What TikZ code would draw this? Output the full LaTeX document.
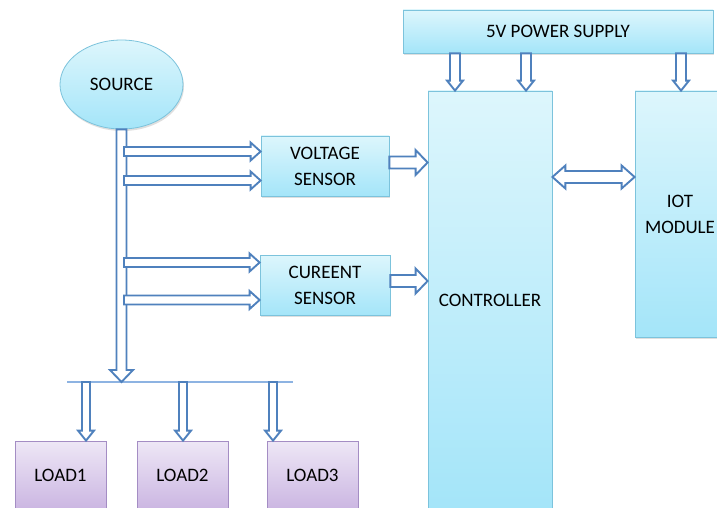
\documentclass[tikz,border=0pt]{standalone}
\usepackage{fontspec}
\setmainfont{Carlito}
\usetikzlibrary{calc,shapes.geometric,shadows}

\definecolor{arrowblue}{HTML}{4F81BD}
\definecolor{boxtop}{HTML}{DDF6FC}
\definecolor{boxbot}{HTML}{A4E5F9}
\definecolor{boxedge}{HTML}{7CC3DC}
\definecolor{loadtop}{HTML}{EEE7F6}
\definecolor{loadbot}{HTML}{CBB6E2}
\definecolor{loadedge}{HTML}{A48DC4}
\definecolor{busline}{HTML}{8DB3E2}

\tikzset{
  boxbase/.style={line width=0.8pt, align=center, inner sep=0pt,
    font=\fontsize{19}{26}\selectfont,
    drop shadow={shadow xshift=1pt, shadow yshift=-2pt, opacity=0.25}},
  bluebox/.style={boxbase, draw=boxedge, top color=boxtop, bottom color=boxbot},
  loadbox/.style={boxbase, draw=loadedge, top color=loadtop, bottom color=loadbot,
    minimum width=91pt, minimum height=68pt},
  % hollow block arrow: {shaft half width}{head half width}{head length}
  hollow/.style n args={3}{draw=arrowblue, fill=white, line width=1.9pt, line join=miter,
    to path={
      ($(\tikztostart)!#1!90:(\tikztotarget)$)
      -- ($($(\tikztotarget)!#3!(\tikztostart)$)!#1!90:(\tikztotarget)$)
      -- ($($(\tikztotarget)!#3!(\tikztostart)$)!#2!90:(\tikztotarget)$)
      -- (\tikztotarget)
      -- ($($(\tikztotarget)!#3!(\tikztostart)$)!#2!-90:(\tikztotarget)$)
      -- ($($(\tikztotarget)!#3!(\tikztostart)$)!#1!-90:(\tikztotarget)$)
      -- ($(\tikztostart)!#1!-90:(\tikztotarget)$)
      -- cycle}},
  % hollow block arrow with a head at both ends
  hollowboth/.style n args={3}{draw=arrowblue, fill=white, line width=1.9pt, line join=miter,
    to path={
      (\tikztostart)
      -- ($($(\tikztostart)!#3!(\tikztotarget)$)!#2!90:(\tikztotarget)$)
      -- ($($(\tikztostart)!#3!(\tikztotarget)$)!#1!90:(\tikztotarget)$)
      -- ($($(\tikztotarget)!#3!(\tikztostart)$)!#1!90:(\tikztotarget)$)
      -- ($($(\tikztotarget)!#3!(\tikztostart)$)!#2!90:(\tikztotarget)$)
      -- (\tikztotarget)
      -- ($($(\tikztotarget)!#3!(\tikztostart)$)!#2!-90:(\tikztotarget)$)
      -- ($($(\tikztotarget)!#3!(\tikztostart)$)!#1!-90:(\tikztotarget)$)
      -- ($($(\tikztostart)!#3!(\tikztotarget)$)!#1!-90:(\tikztotarget)$)
      -- ($($(\tikztostart)!#3!(\tikztotarget)$)!#2!-90:(\tikztotarget)$)
      -- cycle}}
}

\begin{document}
\begin{tikzpicture}[x=1pt,y=-1pt]
\clip (0,0) rectangle (717,508);
\fill[white] (0,0) rectangle (717,508);

% blocks
\node[bluebox, ellipse, minimum width=123pt, minimum height=89pt] (src) at (121.5,84.5) {SOURCE};
\node[bluebox, minimum width=128pt, minimum height=60pt] (vs) at (325,166) {VOLTAGE\\SENSOR};
\node[bluebox, minimum width=130pt, minimum height=60pt] (cs) at (325,285) {CUREENT\\SENSOR};
\node[bluebox, minimum width=310pt, minimum height=43pt] (ps) at (558,31.5) {5V POWER SUPPLY};
\node[bluebox, minimum width=124pt, minimum height=418pt] (ctrl) at (490,300) {CONTROLLER};
\node[bluebox, minimum width=90pt, minimum height=246pt] (iot) at (680,214) {IOT\\MODULE};
\node[loadbox] (l1) at (60.5,475) {LOAD1};
\node[loadbox] (l2) at (182.5,475) {LOAD2};
\node[loadbox] (l3) at (312.5,475) {LOAD3};

% distribution line below the source bus
\coordinate (lineL) at (67,382);
\coordinate (lineR) at (293,382);
\draw[busline, line width=1.2pt] (lineL) -- (lineR);

% source bus
\coordinate (busend) at (src.south |- lineL);
\draw[hollow={5pt}{11.5pt}{12pt}] (src.south) to (busend);

% branches from the bus to the sensors
\coordinate (b1) at (124,151.5);
\coordinate (b2) at (124,180.5);
\coordinate (b3) at (124,262.5);
\coordinate (b4) at (124,300);
\coordinate (v1) at (b1 -| vs.west);
\coordinate (v2) at (b2 -| vs.west);
\coordinate (c1) at (b3 -| cs.west);
\coordinate (c2) at (b4 -| cs.west);
\draw[hollow={4.5pt}{9pt}{10pt}] (b1) to (v1);
\draw[hollow={4.5pt}{9pt}{10pt}] (b2) to (v2);
\draw[hollow={4.5pt}{9pt}{10pt}] (b3) to (c1);
\draw[hollow={4.5pt}{9pt}{10pt}] (b4) to (c2);

% sensors to controller
\coordinate (vo) at ($(vs.east)+(0,-3.5)$);
\coordinate (co) at ($(cs.east)+(0,-4)$);
\coordinate (vi) at (vo -| ctrl.west);
\coordinate (ci) at (co -| ctrl.west);
\draw[hollow={6pt}{12.5pt}{12pt}] (vo) to (vi);
\draw[hollow={6pt}{12.5pt}{12pt}] (co) to (ci);

% controller <-> IoT module
\coordinate (d1) at (ctrl.east |- 0,177);
\coordinate (d2) at (iot.west |- 0,177);
\draw[hollowboth={6pt}{11.5pt}{13pt}] (d1) to (d2);

% power supply feeds
\coordinate (p1) at (ps.south -| 455,0);
\coordinate (p2) at (ps.south -| 526,0);
\coordinate (p3) at (ps.south -| 681,0);
\coordinate (q1) at (p1 |- ctrl.north);
\coordinate (q2) at (p2 |- ctrl.north);
\coordinate (q3) at (p3 |- iot.north);
\draw[hollow={5pt}{8pt}{10pt}] (p1) to (q1);
\draw[hollow={5pt}{8pt}{10pt}] (p2) to (q2);
\draw[hollow={5pt}{8pt}{10pt}] (p3) to (q3);

% feeds to the loads
\coordinate (f1) at (86,382);
\coordinate (f2) at (183,382);
\coordinate (f3) at (273,382);
\coordinate (g1) at (f1 |- l1.north);
\coordinate (g2) at (f2 |- l2.north);
\coordinate (g3) at (f3 |- l3.north);
\draw[hollow={4pt}{8pt}{10pt}] (f1) to (g1);
\draw[hollow={4pt}{8pt}{10pt}] (f2) to (g2);
\draw[hollow={4pt}{8pt}{10pt}] (f3) to (g3);
\end{tikzpicture}
\end{document}
